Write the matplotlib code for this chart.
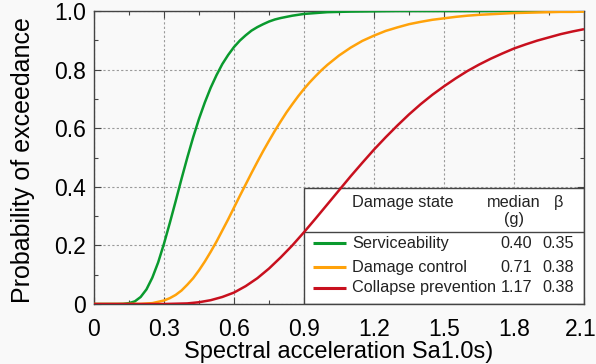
"""Fragility curves (probability of exceedance vs Sa1.0s) with a table-style legend."""

import matplotlib
matplotlib.use("Agg")
import matplotlib.pyplot as plt
import matplotlib.transforms as mtransforms
from matplotlib.patches import Rectangle

plt.rcParams["font.family"] = ["Liberation Sans", "DejaVu Sans"]

# values; finer spacing where the curves bend fast
sa_service = [0.00, 0.10, 0.125, 0.15, 0.175, 0.20, 0.225, 0.25, 0.275, 0.30,
              0.325, 0.35, 0.375, 0.40, 0.425, 0.45, 0.475, 0.50, 0.525, 0.55,
              0.575, 0.60, 0.625, 0.65, 0.675, 0.70, 0.725, 0.75, 0.775, 0.80,
              0.85, 0.90, 0.95, 1.00, 1.10, 1.20, 1.30, 1.50, 2.10]
p_service = [0.000, 0.000, 0.0004, 0.003, 0.009, 0.024, 0.050, 0.090, 0.142, 0.206,
             0.277, 0.351, 0.427, 0.500, 0.569, 0.632, 0.688, 0.738, 0.781, 0.819,
             0.850, 0.877, 0.899, 0.917, 0.933, 0.945, 0.955, 0.964, 0.971, 0.976,
             0.984, 0.990, 0.993, 0.996, 0.998, 0.999, 1.000, 1.000, 1.000]

sa_damage = [0.00, 0.20, 0.25, 0.30, 0.325, 0.35, 0.375, 0.40, 0.425, 0.45,
             0.475, 0.50, 0.525, 0.55, 0.575, 0.60, 0.625, 0.65, 0.675, 0.70,
             0.725, 0.75, 0.775, 0.80, 0.825, 0.85, 0.875, 0.90, 0.925, 0.95,
             0.975, 1.00, 1.05, 1.10, 1.15, 1.20, 1.25, 1.30, 1.35, 1.40,
             1.45, 1.50, 1.55, 1.60, 1.65, 1.70, 1.75, 1.80, 1.85, 1.90,
             1.95, 2.00, 2.05, 2.10]
p_damage = [0.000, 0.0004, 0.003, 0.012, 0.020, 0.031, 0.046, 0.066, 0.088, 0.115,
            0.145, 0.178, 0.213, 0.251, 0.289, 0.329, 0.369, 0.408, 0.447, 0.485,
            0.522, 0.557, 0.591, 0.623, 0.654, 0.682, 0.709, 0.734, 0.757, 0.778,
            0.798, 0.816, 0.848, 0.875, 0.898, 0.916, 0.932, 0.944, 0.955, 0.963,
            0.970, 0.975, 0.980, 0.984, 0.987, 0.989, 0.991, 0.993, 0.994, 0.995,
            0.996, 0.997, 0.997, 0.998]

sa_collapse = [0.00, 0.30, 0.35, 0.40, 0.45, 0.50, 0.55, 0.60, 0.65, 0.70,
               0.75, 0.80, 0.85, 0.90, 0.95, 1.00, 1.05, 1.10, 1.15, 1.20,
               1.25, 1.30, 1.35, 1.40, 1.45, 1.50, 1.55, 1.60, 1.65, 1.70,
               1.75, 1.80, 1.85, 1.90, 1.95, 2.00, 2.05, 2.10]
p_collapse = [0.000, 0.000, 0.001, 0.002, 0.006, 0.013, 0.024, 0.039, 0.061, 0.088,
              0.121, 0.159, 0.200, 0.245, 0.292, 0.340, 0.388, 0.436, 0.482, 0.527,
              0.569, 0.609, 0.647, 0.682, 0.714, 0.743, 0.770, 0.795, 0.817, 0.837,
              0.855, 0.872, 0.886, 0.899, 0.910, 0.921, 0.930, 0.938]

states = ["Serviceability", "Damage control", "Collapse prevention"]
medians = ["0.40", "0.71", "1.17"]
betas = ["0.35", "0.38", "0.38"]
colors = ["#0a9a2e", "#ffa20a", "#c8101e"]

x_ticks = [0, 0.3, 0.6, 0.9, 1.2, 1.5, 1.8, 2.1]
x_tick_labels = ["0", "0.3", "0.6", "0.9", "1.2", "1.5", "1.8", "2.1"]
y_ticks = [0, 0.2, 0.4, 0.6, 0.8, 1.0]
y_tick_labels = ["0", "0.2", "0.4", "0.6", "0.8", "1.0"]

BG = "#f9f9f9"

fig = plt.figure(figsize=(5.96, 3.64), dpi=100, facecolor=BG)
ax = fig.add_axes([94 / 596, 60 / 364, 490 / 596, 293 / 364], facecolor=BG)

ax.set_xlim(0, 2.1)
ax.set_ylim(0, 1.0)
ax.set_xticks(x_ticks, x_tick_labels)
ax.set_yticks(y_ticks, y_tick_labels)
ax.set_xticks([0.15 + 0.3 * i for i in range(7)], minor=True)
ax.set_yticks([0.1 + 0.2 * i for i in range(5)], minor=True)
ax.tick_params(which="both", direction="in", top=True, right=True,
               color="#444444", width=0.8)
ax.tick_params(which="major", length=5, labelsize=16.5)
ax.tick_params(axis="x", which="major", pad=10)
ax.tick_params(axis="y", which="major", pad=6)
ax.tick_params(which="minor", length=3)
ax.grid(which="major", color="#9a9a9a", linestyle=(0, (2, 2)), linewidth=0.8)
for s in ax.spines.values():
    s.set_color("#444444")
    s.set_linewidth(1.0)

# last x label sits right at the figure edge; nudge it in a touch
last = ax.get_xticklabels()[-1]
last.set_transform(last.get_transform() +
                   mtransforms.ScaledTranslation(-3 / 100, 0, fig.dpi_scale_trans))

ax.set_xlabel("Spectral acceleration Sa1.0s)", fontsize=17, labelpad=0)
ax.set_ylabel("Probability of exceedance", fontsize=18, va="center")
ax.yaxis.set_label_coords(-71 / 490, 0.49)

# legend table box (white, under the curves)
ax.add_patch(Rectangle((0.9, 0.0), 1.2, 0.396, facecolor="white",
                       edgecolor="#444444", linewidth=1.0, zorder=2))
ax.plot([0.9, 2.1], [0.246, 0.246], color="#444444", lw=1.0, zorder=2.1)

for xs, probs, c in zip([sa_service, sa_damage, sa_collapse],
                        [p_service, p_damage, p_collapse], colors):
    ax.plot(xs, probs, color=c, lw=1.8, zorder=3, solid_capstyle="butt")

tkw = dict(fontsize=11.7, color="#222222", zorder=4, va="center")
ax.text(1.106, 0.348, "Damage state", ha="left", **tkw)
ax.text(1.80, 0.348, "median", ha="center", **tkw)
ax.text(1.80, 0.287, "(g)", ha="center", **tkw)
ax.text(1.993, 0.348, "β", ha="center", **tkw)

row_y = [0.208, 0.126, 0.055]
for name, med, b, c, y in zip(states, medians, betas, colors, row_y):
    ax.plot([0.939, 1.08], [y, y], color=c, lw=2.2, zorder=4, solid_capstyle="butt")
    ax.text(1.106, y, name, ha="left", **tkw)
    ax.text(1.877, y, med, ha="right", **tkw)
    ax.text(2.057, y, b, ha="right", **tkw)

fig.savefig("out.png", dpi=100, facecolor=BG)
